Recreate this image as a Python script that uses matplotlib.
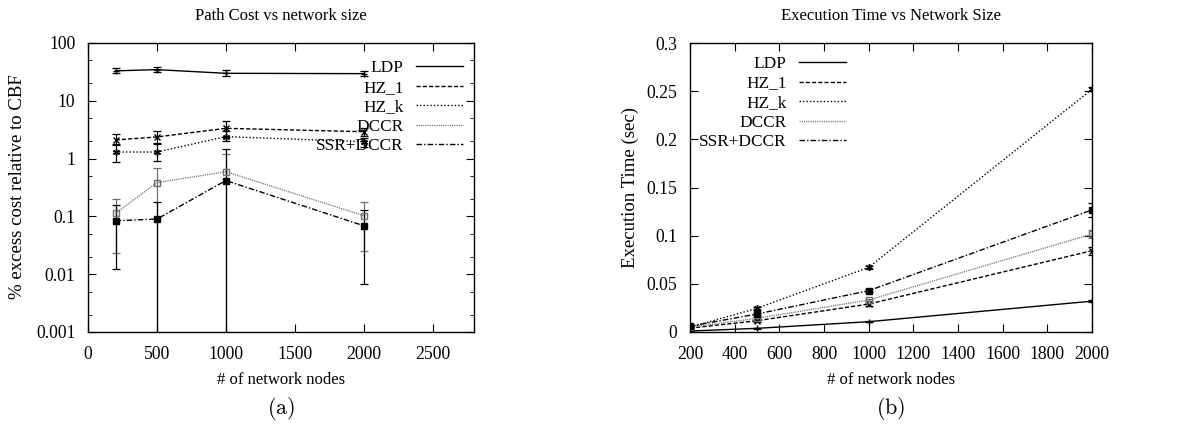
import numpy as np
import matplotlib
matplotlib.use("Agg")
from matplotlib import pyplot as plt
from matplotlib.lines import Line2D
from matplotlib.ticker import LogLocator, FixedLocator, NullFormatter, FormatStrFormatter

plt.rcParams["font.family"] = ["Liberation Serif", "DejaVu Serif"]
plt.rcParams["mathtext.fontset"] = "cm"

nodes = [200, 500, 1000, 2000]
labels = ["LDP", "HZ_1", "HZ_k", "DCCR", "SSR+DCCR"]

# (a) % excess cost relative to CBF, with lower/upper error bounds (0 = below axis)
cost = {
    "LDP": [33.0, 34.6, 29.9, 29.5],
    "HZ_1": [2.1, 2.37, 3.34, 2.92],
    "HZ_k": [1.30, 1.30, 2.40, 1.96],
    "DCCR": [0.113, 0.383, 0.594, 0.103],
    "SSR+DCCR": [0.084, 0.090, 0.417, 0.069],
}
cost_lo = {
    "LDP": [30.0, 31.0, 26.5, 27.0],
    "HZ_1": [1.7, 1.8, 2.4, 2.5],
    "HZ_k": [0.89, 0.92, 2.0, 1.6],
    "DCCR": [0.023, 0.0, 0.0, 0.025],
    "SSR+DCCR": [0.0121, 0.0, 0.0, 0.0069],
}
cost_hi = {
    "LDP": [37.0, 38.0, 34.0, 32.5],
    "HZ_1": [2.7, 3.0, 4.4, 3.4],
    "HZ_k": [1.8, 1.87, 3.0, 2.3],
    "DCCR": [0.198, 0.68, 1.2, 0.18],
    "SSR+DCCR": [0.155, 0.18, 1.44, 0.13],
}

# (b) execution time (sec) and symmetric errors
exec_time = {
    "LDP": [0.001, 0.0038, 0.0107, 0.032],
    "HZ_1": [0.004, 0.0117, 0.029, 0.0844],
    "HZ_k": [0.005, 0.0246, 0.067, 0.252],
    "DCCR": [0.005, 0.0142, 0.0332, 0.1017],
    "SSR+DCCR": [0.006, 0.0187, 0.0429, 0.1267],
}
exec_err = {
    "LDP": [0.0003, 0.0005, 0.0008, 0.001],
    "HZ_1": [0.0008, 0.001, 0.0015, 0.004],
    "HZ_k": [0.0008, 0.0015, 0.002, 0.002],
    "DCCR": [0.0008, 0.001, 0.0015, 0.004],
    "SSR+DCCR": [0.0008, 0.0015, 0.0015, 0.007],
}

styles = {
    "LDP": dict(color="black", ls="-", marker="+"),
    "HZ_1": dict(color="black", ls=(0, (3, 1.5)), marker="x"),
    "HZ_k": dict(color="black", ls=(0, (1, 1.5)), marker=(6, 2, 0)),
    "DCCR": dict(color="#707070", ls=(0, (0.8, 0.8)), marker="s", mfc="none"),
    "SSR+DCCR": dict(color="black", ls=(0, (4, 1.5, 1, 1.5)), marker="s"),
}

W, H = 1183, 428
fig = plt.figure(figsize=(W / 100, H / 100), dpi=100)


def px_axes(x0, x1, y0, y1):
    return fig.add_axes([x0 / W, 1 - y1 / H, (x1 - x0) / W, (y1 - y0) / H])


def style_axes(ax):
    ax.tick_params(which="both", direction="in", top=True, right=True, labelsize=12.7)
    ax.tick_params(axis="x", pad=10)
    ax.tick_params(axis="y", pad=9)
    ax.tick_params(which="major", length=6)
    ax.tick_params(which="minor", length=3)
    for s in ax.spines.values():
        s.set_linewidth(1.0)


def legend(ax, x, y):
    handles = [Line2D([], [], color=styles[k]["color"], ls=styles[k]["ls"], lw=1) for k in labels]
    ax.legend(handles, labels, loc="upper right", bbox_to_anchor=(x, y), frameon=False,
              markerfirst=False, fontsize=12.4, handlelength=2.75, handletextpad=0.7,
              labelspacing=0.2, borderpad=0, borderaxespad=0)


# ---- (a)
ax1 = px_axes(88, 474, 43, 332)
ax1.set_yscale("log")
for k in labels:
    st = styles[k]
    y = np.array(cost[k])
    yerr = [y - np.array(cost_lo[k]), np.array(cost_hi[k]) - y]
    ax1.errorbar(nodes, y, yerr=yerr, color=st["color"], ls=st["ls"], lw=1,
                 marker=st["marker"], ms=5, mfc=st.get("mfc", st["color"]),
                 mec=st["color"], elinewidth=0.9, capsize=3, capthick=0.9)
ax1.set_xlim(0, 2800)
ax1.set_ylim(0.001, 100)
ax1.set_xticks([0, 500, 1000, 1500, 2000, 2500])
ax1.yaxis.set_major_locator(FixedLocator([0.001, 0.01, 0.1, 1, 10, 100]))
ax1.set_yticklabels(["0.001", "0.01", "0.1", "1", "10", "100"])
ax1.yaxis.set_minor_locator(LogLocator(subs=[2, 5]))
ax1.yaxis.set_minor_formatter(NullFormatter())
style_axes(ax1)
legend(ax1, 0.9715, 0.94)

# ---- (b)
ax2 = px_axes(690, 1092, 43, 332)
for k in labels:
    st = styles[k]
    ax2.errorbar(nodes, exec_time[k], yerr=exec_err[k], color=st["color"], ls=st["ls"], lw=1,
                 marker=st["marker"], ms=5, mfc=st.get("mfc", st["color"]),
                 mec=st["color"], elinewidth=0.9, capsize=3, capthick=0.9)
ax2.set_xlim(200, 2000)
ax2.set_ylim(0, 0.3)
ax2.set_xticks(np.arange(200, 2001, 200))
ax2.set_yticks([0, 0.05, 0.1, 0.15, 0.2, 0.25, 0.3])
ax2.yaxis.set_major_formatter(FormatStrFormatter("%g"))
style_axes(ax2)
legend(ax2, 0.388, 0.955)

# titles and labels
fig.text(281 / W, 1 - 16 / H, "Path Cost vs network size", ha="center", va="center", fontsize=12)
fig.text(891 / W, 1 - 16 / H, "Execution Time vs Network Size", ha="center", va="center", fontsize=12)
fig.text(281 / W, 1 - 380 / H, "# of network nodes", ha="center", va="center", fontsize=12)
fig.text(891 / W, 1 - 380 / H, "# of network nodes", ha="center", va="center", fontsize=12)
fig.text(18 / W, 1 - 187 / H, "% excess cost relative to CBF", ha="center", va="center",
         rotation=90, fontsize=13.5)
fig.text(630 / W, 1 - 187 / H, "Execution Time (sec)", ha="center", va="center",
         rotation=90, fontsize=13.5)
fig.text(281 / W, 1 - 408 / H, r"$\mathrm{(a)}$", ha="center", va="center", fontsize=16)
fig.text(891 / W, 1 - 408 / H, r"$\mathrm{(b)}$", ha="center", va="center", fontsize=16)

fig.savefig("out.png", dpi=100)
